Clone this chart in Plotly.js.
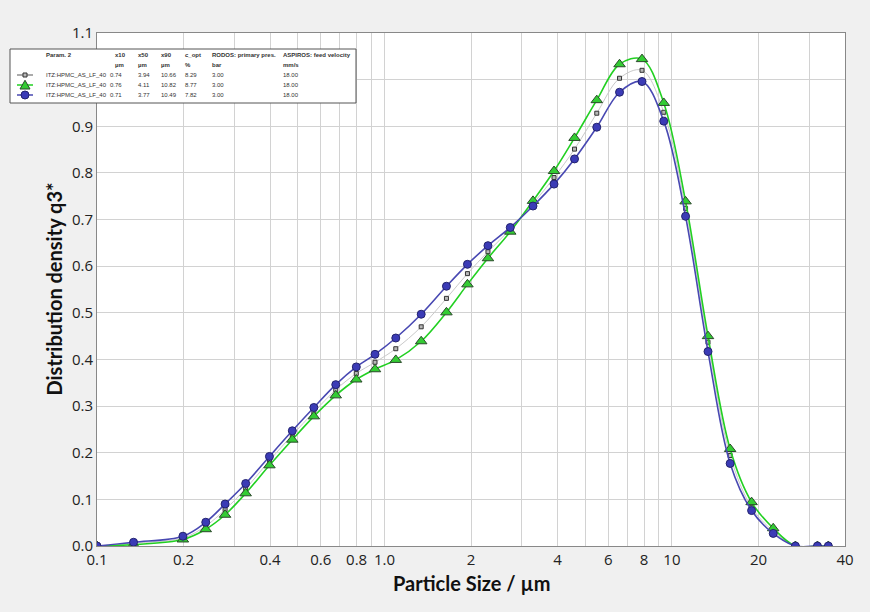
<!DOCTYPE html>
<html>
<head>
<meta charset="utf-8">
<script src="https://cdn.plot.ly/plotly-3.0.1.min.js"></script>
<style>
  html, body { margin: 0; padding: 0; background: #f0f0f0; }
  #chart { width: 870px; height: 612px; }
</style>
</head>
<body>
<div id="chart"></div>
<script>
// Particle size classes (µm): class mid-points of the HELOS R1 range plus the range ends
const sizes = [0.1, 0.134, 0.199, 0.239, 0.279, 0.329, 0.398, 0.478, 0.568, 0.677,
  0.798, 0.927, 1.095, 1.342, 1.643, 1.944, 2.291, 2.739, 3.286, 3.889,
  4.583, 5.477, 6.573, 7.869, 9.366, 11.155, 13.35, 15.94, 18.93, 22.51,
  26.89, 32.08, 35];

// Distribution density q3* for each measurement
const q3Average = [0, 0.006, 0.017, 0.043, 0.078, 0.123, 0.183, 0.238, 0.287, 0.335,
  0.370, 0.394, 0.423, 0.470, 0.531, 0.584, 0.631, 0.679, 0.734, 0.790,
  0.851, 0.928, 1.003, 1.020, 0.930, 0.724, 0.437, 0.194, 0.083, 0.032,
  0, 0, 0];
const q3RunA = [0, 0.003, 0.014, 0.036, 0.067, 0.113, 0.173, 0.228, 0.278, 0.323,
  0.357, 0.379, 0.399, 0.439, 0.501, 0.561, 0.617, 0.674, 0.740, 0.804,
  0.875, 0.956, 1.033, 1.044, 0.950, 0.739, 0.450, 0.208, 0.094, 0.038,
  0, 0, 0];
const q3RunB = [0, 0.008, 0.021, 0.051, 0.090, 0.134, 0.192, 0.247, 0.297, 0.346,
  0.384, 0.411, 0.446, 0.497, 0.557, 0.604, 0.644, 0.683, 0.729, 0.776,
  0.830, 0.898, 0.973, 0.996, 0.911, 0.707, 0.417, 0.177, 0.076, 0.027,
  0, 0, 0];

// Axis ticks (the 1.0 label sits behind the key box, so only its grid line shows)
const xTickVals = [0.1, 0.2, 0.4, 0.6, 0.8, 1, 2, 4, 6, 8, 10, 20, 40];
const xTickText = ['0.1', '0.2', '0.4', '0.6', '0.8', '1.0', '2', '4', '6', '8', '10', '20', '40'];
const xMinorGrid = [0.3, 0.5, 0.7, 0.9, 3, 5, 7, 9, 30];
const yTickVals = [0, 0.1, 0.2, 0.3, 0.4, 0.5, 0.6, 0.7, 0.8, 0.9, 1.0, 1.1];
const yTickText = ['0.0', '0.1', '0.2', '0.3', '0.4', '0.5', '0.6', '0.7', '0.8', '0.9', '', '1.1'];

// Result table shown in the key box
const tableHeader = ['Param. 2', 'x10', 'x50', 'x90', 'c_opt', 'RODOS: primary pres.', 'ASPIROS: feed velocity'];
const tableUnits = ['', 'µm', 'µm', 'µm', '%', 'bar', 'mm/s'];
const runNames = ['ITZ:HPMC_AS_LF_40', 'ITZ:HPMC_AS_LF_40', 'ITZ:HPMC_AS_LF_40'];
const x10 = ['0.74', '0.76', '0.71'];
const x50 = ['3.94', '4.11', '3.77'];
const x90 = ['10.66', '10.82', '10.49'];
const cOpt = ['8.29', '8.77', '7.82'];
const primaryPres = ['3.00', '3.00', '3.00'];
const feedVelocity = ['18.00', '18.00', '18.00'];

// Styling per measurement (order: average, run A, run B)
const styles = [
  { line: '#c9c9c9', key: '#8f8f8f', width: 1, symbol: 'square', size: 4, fill: '#b8b8b8', edge: '#333333' },
  { line: '#22d022', key: '#22d022', width: 1.6, symbol: 'triangle-up', size: 10, fill: '#33cc33', edge: '#2b4a2b' },
  { line: '#4848b2', key: '#4848b2', width: 1.6, symbol: 'circle', size: 8, fill: '#3b3bb6', edge: '#23236e' }
];
const series = [q3Average, q3RunA, q3RunB];

const W = 870, H = 612;
const plotL = 97, plotR = 845, plotT = 33, plotB = 546;
const px = v => v / W;
const py = v => (H - v) / H;

const traces = series.map((ys, i) => ({
  type: 'scatter',
  mode: 'lines+markers',
  x: sizes,
  y: ys,
  line: { color: styles[i].line, width: styles[i].width, shape: 'spline', smoothing: 1 },
  marker: {
    symbol: styles[i].symbol, size: styles[i].size, color: styles[i].fill,
    line: { color: styles[i].edge, width: 1 }
  },
  showlegend: false,
  hoverinfo: 'x+y'
}));

// Key box with the results table
const shapes = [{
  type: 'rect', xref: 'paper', yref: 'paper', layer: 'above',
  x0: px(10), x1: px(356), y0: py(103), y1: py(49),
  fillcolor: '#ffffff', line: { color: '#555555', width: 1 }
}];
const annotations = [];
const headX = [45, 114, 137, 160, 184, 211, 282];
const cellX = [45, 109, 137, 160, 184, 211, 282];
const rowY = [75, 85, 95];
const keyFont = { family: 'Liberation Sans, Arial, sans-serif', size: 6, color: '#333333' };

function keyText(t, x, y) {
  annotations.push({
    xref: 'paper', yref: 'paper', x: px(x), y: py(y), text: t,
    showarrow: false, xanchor: 'left', yanchor: 'middle', font: keyFont, borderpad: 0
  });
}
tableHeader.forEach((t, c) => keyText('<b>' + t + '</b>', headX[c], 55));
tableUnits.forEach((t, c) => { if (t) keyText('<b>' + t + '</b>', headX[c], 65); });
runNames.forEach((name, r) => {
  const row = [name, x10[r], x50[r], x90[r], cOpt[r], primaryPres[r], feedVelocity[r]];
  row.forEach((t, c) => keyText(t, cellX[c], rowY[r]));
  // key symbol: short line with marker
  const s = styles[r];
  const cy = py(rowY[r]);
  shapes.push({
    type: 'line', xref: 'paper', yref: 'paper', layer: 'above',
    x0: px(17), x1: px(33), y0: cy, y1: cy,
    line: { color: s.key, width: 1.5 }
  });
  const half = s.size / 2;
  let mk;
  if (s.symbol === 'circle') {
    mk = { type: 'circle', x0: -half, x1: half, y0: -half, y1: half };
  } else if (s.symbol === 'square') {
    mk = { type: 'rect', x0: -half, x1: half, y0: -half, y1: half };
  } else {
    mk = { type: 'path', path: `M ${-half} ${-half * 0.8} L ${half} ${-half * 0.8} L 0 ${half * 0.95} Z` };
  }
  shapes.push(Object.assign(mk, {
    xref: 'paper', yref: 'paper', layer: 'above',
    xsizemode: 'pixel', ysizemode: 'pixel', xanchor: px(25), yanchor: cy,
    fillcolor: s.fill, line: { color: s.edge, width: 1 }
  }));
});

// Axis titles
annotations.push({
  xref: 'paper', yref: 'paper', x: px((plotL + plotR) / 2), y: py(583),
  text: 'Particle Size / µm', showarrow: false, xanchor: 'center', yanchor: 'middle',
  font: { family: 'Lato, sans-serif', size: 20, color: '#111111', weight: 'bold' }
});
annotations.push({
  xref: 'paper', yref: 'paper', x: px(53), y: py((plotT + plotB) / 2),
  text: 'Distribution density q3*', textangle: -90, showarrow: false,
  xanchor: 'center', yanchor: 'middle',
  font: { family: 'Lato, sans-serif', size: 20, color: '#111111', weight: 'bold' }
});

const gridColor = '#d2d2d2';
const layout = {
  width: W, height: H,
  margin: { l: 0, r: 0, t: 0, b: 0 },
  paper_bgcolor: '#f0f0f0',
  plot_bgcolor: '#ffffff',
  showlegend: false,
  xaxis: {
    type: 'log',
    domain: [px(plotL), px(plotR)],
    range: [Math.log10(0.1), Math.log10(40)],
    tickmode: 'array', tickvals: xTickVals, ticktext: xTickText,
    ticks: '', ticklen: 0,
    showgrid: true, gridcolor: gridColor, gridwidth: 1,
    minor: { tickmode: 'array', tickvals: xMinorGrid, showgrid: true, gridcolor: gridColor, gridwidth: 1, ticks: '' },
    showline: true, linecolor: '#888888', linewidth: 1, mirror: true,
    zeroline: false,
    tickfont: { family: 'Open Sans, sans-serif', size: 15, color: '#222222' },
    automargin: false
  },
  yaxis: {
    domain: [1 - plotB / H, 1 - plotT / H],
    range: [0, 1.1],
    tickmode: 'array', tickvals: yTickVals, ticktext: yTickText,
    ticks: '', ticklen: 0,
    showgrid: true, gridcolor: gridColor, gridwidth: 1,
    showline: true, linecolor: '#888888', linewidth: 1, mirror: true,
    zeroline: false,
    tickfont: { family: 'Open Sans, sans-serif', size: 15, color: '#222222' },
    automargin: false
  },
  shapes: shapes,
  annotations: annotations
};

Plotly.newPlot('chart', traces, layout, { displayModeBar: false, staticPlot: true });
</script>
</body>
</html>
